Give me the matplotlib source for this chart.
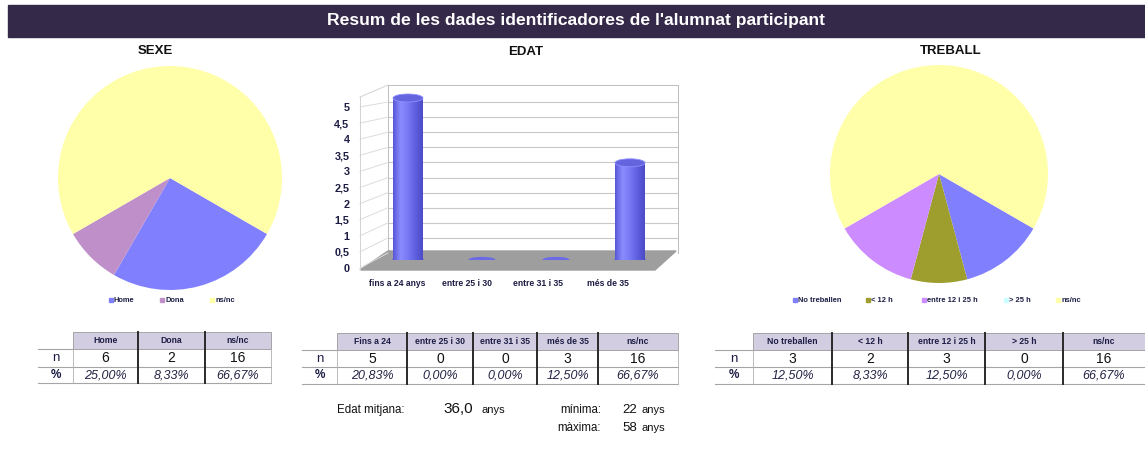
import numpy as np
import matplotlib.pyplot as plt
from matplotlib.patches import Rectangle, Ellipse, Polygon
from matplotlib.lines import Line2D
from matplotlib.colors import LinearSegmentedColormap

plt.rcParams['font.family'] = ['Liberation Sans', 'DejaVu Sans']

W, H = 1145, 461

## Data
sexe_labels = ['Home', 'Dona', 'ns/nc']
sexe_n = [6, 2, 16]

edat_cats = ['fins a 24 anys', 'entre 25 i 30', 'entre 31 i 35', 'més de 35']
edat_n = [5, 0, 0, 3]
edat_table_labels = ['Fins a 24', 'entre 25 i 30', 'entre 31 i 35', 'més de 35', 'ns/nc']
edat_table_n = [5, 0, 0, 3, 16]
edat_ticks = [0, 0.5, 1, 1.5, 2, 2.5, 3, 3.5, 4, 4.5, 5]

treball_labels = ['No treballen', '< 12 h', 'entre 12 i 25 h', '> 25 h', 'ns/nc']
treball_n = [3, 2, 3, 0, 16]

edat_mitjana = '36,0'
edat_minima = 22
edat_maxima = 58

sexe_colors = ['#8080FF', '#BF8FC9', '#FFFFAA']
treball_colors = ['#8080FF', '#9E9E2E', '#CC8CFF', '#CCFFFF', '#FFFFAA']
bar_color = '#7474F2'
head_color = '#D3CDE2'
navy = '#1C1C44'


def fbox(x0, y0, x1, y1):
    # pixel box (top-left origin) -> figure fraction rect
    return [x0 / W, 1 - y1 / H, (x1 - x0) / W, (y1 - y0) / H]


def fx(x):
    return x / W


def fy(y):
    return 1 - y / H


def pct(values):
    total = sum(values)
    return [f'{100 * v / total:.2f}%'.replace('.', ',') for v in values]


fig = plt.figure(figsize=(W / 100, H / 100), dpi=100)

## Title bar
fig.patches.append(Rectangle((fx(8), fy(37)), fx(1145 - 8), 32 / H,
                             transform=fig.transFigure, color='#35294A', zorder=0))
fig.text(fx(576), fy(21), "Resum de les dades identificadores de l'alumnat participant",
         color='white', fontsize=12.6, fontweight='bold', ha='center', va='center')

fig.text(fx(155), fy(51), 'SEXE', fontsize=9.5, fontweight='bold', ha='center', va='center', color='#111111')
fig.text(fx(526), fy(52), 'EDAT', fontsize=9.5, fontweight='bold', ha='center', va='center', color='#111111')
fig.text(fx(951), fy(51), 'TREBALL', fontsize=9.5, fontweight='bold', ha='center', va='center', color='#111111')

## Pies
ax_sexe = fig.add_axes(fbox(58, 66, 282, 290))
ax_sexe.pie(sexe_n, colors=sexe_colors, startangle=-30, counterclock=False,
            wedgeprops=dict(linewidth=0))
ax_sexe.set_xlim(-1, 1)
ax_sexe.set_ylim(-1, 1)

ax_treb = fig.add_axes(fbox(830, 65, 1048, 283))
ax_treb.pie(treball_n, colors=treball_colors, startangle=-30, counterclock=False,
            wedgeprops=dict(linewidth=0))
ax_treb.set_xlim(-1, 1)
ax_treb.set_ylim(-1, 1)


def legend_row(labels, colors, xs, y):
    for lab, col, x in zip(labels, colors, xs):
        fig.patches.append(Rectangle((fx(x - 4), fy(y + 2)), 4 / W, 4 / H,
                                     transform=fig.transFigure, color=col))
        fig.text(fx(x + 1), fy(y), lab, fontsize=5.4, fontweight='bold',
                 color=navy, ha='left', va='center')


legend_row(sexe_labels, sexe_colors, [113, 164, 214], 300)
legend_row(treball_labels, treball_colors, [797, 870, 926, 1008, 1060], 300)

## Bar chart (pseudo 3D)
wall_top, wall_bot, wall_scale = 85, 253, 30.2
ax_wall = fig.add_axes(fbox(388, wall_top, 678, wall_bot))
ax_wall.set_ylim(0, (wall_bot - wall_top) / wall_scale)
ax_wall.set_xlim(0, 1)
ax_wall.set_yticks(edat_ticks)
ax_wall.set_xticks([])
ax_wall.grid(axis='y', color='#C8C8C8', linewidth=0.8)
ax_wall.tick_params(left=False, labelleft=False)
for s in ax_wall.spines.values():
    s.set_color('#BDBDBD')
    s.set_linewidth(0.7)
ax_wall.spines['bottom'].set_visible(False)

# left wall
lab_base, lab_scale = 268, 32.2
for v in edat_ticks:
    fig.lines.append(Line2D([fx(360), fx(388)],
                            [fy(lab_base - lab_scale * v), fy(wall_bot - wall_scale * v)],
                            transform=fig.transFigure, color='#DCDCDC', linewidth=0.7))
fig.lines.append(Line2D([fx(360), fx(360)], [fy(270), fy(97)],
                        transform=fig.transFigure, color='#D2D2D2', linewidth=0.7))
fig.lines.append(Line2D([fx(360), fx(388)], [fy(97), fy(wall_top)],
                        transform=fig.transFigure, color='#D2D2D2', linewidth=0.7))

# floor
floor = [(360, 270), (655, 270), (676, 251), (388, 251)]
fig.patches.append(Polygon([(fx(a), fy(b)) for a, b in floor], closed=True,
                           transform=fig.transFigure, color='#9E9E9E', zorder=1))

# tick labels on the front plane
ax_front = fig.add_axes(fbox(362, lab_base - lab_scale * 5.56, 643, lab_base))
ax_front.set_ylim(0, 5.56)
ax_front.set_xlim(-0.5, len(edat_cats) - 0.5)
ax_front.patch.set_visible(False)
for s in ax_front.spines.values():
    s.set_visible(False)
ax_front.set_yticks(edat_ticks)
ax_front.set_yticklabels([f'{t:g}'.replace('.', ',') for t in edat_ticks])
ax_front.set_xticks(range(len(edat_cats)))
ax_front.set_xticklabels(edat_cats)
ax_front.tick_params(length=0, colors=navy)
ax_front.tick_params(axis='y', pad=9, labelsize=7.8)
ax_front.tick_params(axis='x', pad=8, labelsize=6.2)
for t in ax_front.get_xticklabels() + ax_front.get_yticklabels():
    t.set_fontweight('bold')

# bars
bar_base, bar_scale = 260, 32.4
ax_bar = fig.add_axes(fbox(371, 80, 667, bar_base))
ax_bar.set_zorder(2)
ylim_bar = (0, (bar_base - 80) / bar_scale)
ax_bar.axis('off')
bw = 0.405
cap_h = 8 / bar_scale
xpos = np.arange(len(edat_cats))
cyl = LinearSegmentedColormap.from_list('cyl', ['#5858D8', '#8C8CFF', '#7878F4', '#5F5FE0', '#4C4CC8'])
grad = np.linspace(0, 1, 64)[None, :]
bars = ax_bar.bar(xpos, edat_n, width=bw, color=bar_color, linewidth=0)
for x, v, rect in zip(xpos, edat_n, bars):
    if v > 0:
        base = Ellipse((x, 0), bw, cap_h, color='#5C5CDA')
        ax_bar.add_patch(base)
        im = ax_bar.imshow(grad, extent=(x - bw / 2, x + bw / 2, 0, v), aspect='auto',
                           cmap=cyl, zorder=1.5)
        im.set_clip_path(rect)
        ax_bar.add_patch(Ellipse((x, v), bw, cap_h, facecolor='#6464DE',
                                 edgecolor='#9090FF', linewidth=0.6, zorder=2))
    else:
        ax_bar.add_patch(Ellipse((x, v), bw * 0.85, cap_h * 0.6, color='#6A6AE6'))
ax_bar.set_xlim(-0.5, len(edat_cats) - 0.5)
ax_bar.set_ylim(*ylim_bar)


## Tables
def draw_table(x_lab, cols, rows, headers, n_vals):
    y0, y1, y2, y3 = rows
    for i, h in enumerate(headers):
        fig.patches.append(Rectangle((fx(cols[i]), fy(y1)), (cols[i + 1] - cols[i]) / W,
                                     (y1 - y0) / H, transform=fig.transFigure,
                                     facecolor=head_color, edgecolor='#9A9A9A', linewidth=0.6))
        xc = (cols[i] + cols[i + 1]) / 2
        fig.text(fx(xc), fy((y0 + y1) / 2), h, fontsize=6.2, fontweight='bold',
                 color=navy, ha='center', va='center')
    for y in (y2, y3):
        fig.lines.append(Line2D([fx(x_lab), fx(cols[-1])], [fy(y), fy(y)],
                                transform=fig.transFigure, color='#A5A5A5', linewidth=0.8))
    fig.lines.append(Line2D([fx(x_lab), fx(cols[0])], [fy(y1), fy(y1)],
                            transform=fig.transFigure, color='#A5A5A5', linewidth=0.8))
    for x in (cols[0], cols[-1]):
        fig.lines.append(Line2D([fx(x), fx(x)], [fy(y1), fy(y3)],
                                transform=fig.transFigure, color='#B0B0B0', linewidth=0.6))
    for x in cols[1:-1]:
        fig.lines.append(Line2D([fx(x), fx(x)], [fy(y0), fy(y3)],
                                transform=fig.transFigure, color='#2A2A2A', linewidth=1.4))
    xl = (x_lab + cols[0]) / 2
    fig.text(fx(xl), fy((y1 + y2) / 2), 'n', fontsize=9.5, color=navy, ha='center', va='center')
    fig.text(fx(xl), fy((y2 + y3) / 2), '%', fontsize=8.5, fontweight='bold', color=navy,
             ha='center', va='center')
    for i, (n, p) in enumerate(zip(n_vals, pct(n_vals))):
        xc = (cols[i] + cols[i + 1]) / 2
        fig.text(fx(xc), fy((y1 + y2) / 2 + 0.5), str(n), fontsize=10, color='#111111',
                 ha='center', va='center')
        fig.text(fx(xc), fy((y2 + y3) / 2 + 0.5), p, fontsize=9, style='italic',
                 color='#222244', ha='center', va='center')


draw_table(38, [73, 138, 205, 271], [332, 349, 367, 383], ['Home', 'Dona', 'ns/nc'], sexe_n)
draw_table(302, [337, 407, 473, 537, 598, 678], [333, 350, 367, 384],
           edat_table_labels, edat_table_n)
draw_table(715, [753, 832, 908, 985, 1063, 1145], [333, 350, 367, 384],
           treball_labels, treball_n)

## Age summary
fig.text(fx(337), fy(410), 'Edat mitjana:', fontsize=8.3, color='#111111', va='center')
fig.text(fx(443), fy(409), edat_mitjana, fontsize=11, color='#111111', va='center')
fig.text(fx(481), fy(410), 'anys', fontsize=8, color='#111111', va='center')
fig.text(fx(601), fy(410), 'mínima:', fontsize=8.3, color='#111111', va='center', ha='right')
fig.text(fx(637), fy(410), str(edat_minima), fontsize=9.5, color='#111111', va='center', ha='right')
fig.text(fx(641), fy(410), 'anys', fontsize=8, color='#111111', va='center')
fig.text(fx(601), fy(428), 'màxima:', fontsize=8.3, color='#111111', va='center', ha='right')
fig.text(fx(637), fy(428), str(edat_maxima), fontsize=9.5, color='#111111', va='center', ha='right')
fig.text(fx(641), fy(428), 'anys', fontsize=8, color='#111111', va='center')

fig.savefig('out.png', dpi=100)
